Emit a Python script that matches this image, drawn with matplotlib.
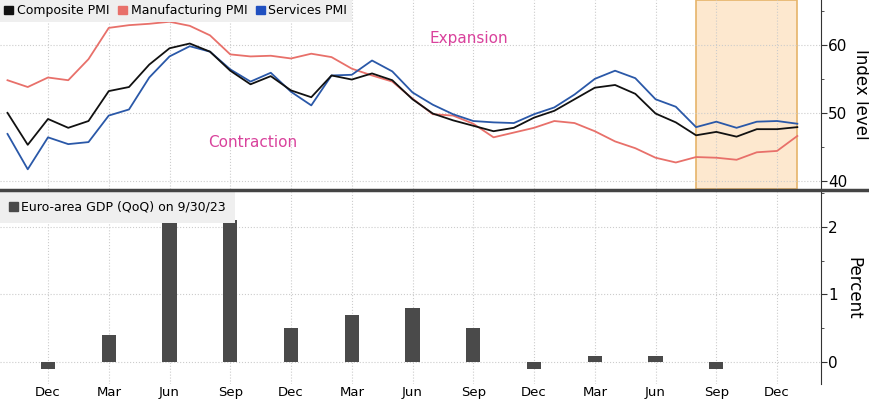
import numpy as np
import matplotlib.pyplot as plt
from matplotlib.patches import Patch
from matplotlib.lines import Line2D

# monthly PMI, Oct 2020 .. Jan 2024
composite = [50.0, 45.3, 49.1,
             47.8, 48.8, 53.2, 53.8, 57.1, 59.5, 60.2, 59.0, 56.2, 54.2, 55.4, 53.3,
             52.3, 55.5, 54.9, 55.8, 54.8, 52.0, 49.9, 48.9, 48.1, 47.3, 47.8, 49.3,
             50.3, 52.0, 53.7, 54.1, 52.8, 49.9, 48.6, 46.7, 47.2, 46.5, 47.6, 47.6,
             47.9]
manufacturing = [54.8, 53.8, 55.2,
                 54.8, 57.9, 62.5, 62.9, 63.1, 63.4, 62.8, 61.4, 58.6, 58.3, 58.4, 58.0,
                 58.7, 58.2, 56.5, 55.5, 54.6, 52.1, 49.8, 49.6, 48.4, 46.4, 47.1, 47.8,
                 48.8, 48.5, 47.3, 45.8, 44.8, 43.4, 42.7, 43.5, 43.4, 43.1, 44.2, 44.4,
                 46.6]
services = [46.9, 41.7, 46.4,
            45.4, 45.7, 49.6, 50.5, 55.2, 58.3, 59.8, 59.0, 56.4, 54.6, 55.9, 53.1,
            51.1, 55.5, 55.6, 57.7, 56.1, 53.0, 51.2, 49.8, 48.8, 48.6, 48.5, 49.8,
            50.8, 52.7, 55.0, 56.2, 55.1, 52.0, 50.9, 47.9, 48.7, 47.8, 48.7, 48.8,
            48.4]

# quarterly GDP QoQ, Q4 2020 .. Q3 2023
gdp = [-0.1, 0.4, 2.1, 2.1, 0.5, 0.7, 0.8, 0.5, -0.1, 0.1, 0.1, -0.1]

tick_labels = ['Dec', 'Mar', 'Jun', 'Sep', 'Dec', 'Mar', 'Jun', 'Sep',
               'Dec', 'Mar', 'Jun', 'Sep', 'Dec']

months = np.arange(len(composite))          # 0 = Oct 2020
quarters = np.arange(2, 2 + 3 * len(gdp), 3)  # Dec 2020, Mar 2021, ...
ticks = np.arange(2, 2 + 3 * len(tick_labels), 3)
shade_start, shade_end = 34, 39  # Aug 2023 .. Jan 2024

fig = plt.figure(figsize=(8.7, 4.0), dpi=100)
ax1 = fig.add_axes([0.0, 0.5275, 0.9437, 0.4725])
ax2 = fig.add_axes([0.0, 0.04, 0.9437, 0.48], sharex=ax1)

c_comp, c_manu, c_serv = '#111111', '#e8706a', '#2a58a8'

ax1.axvspan(shade_start, shade_end, facecolor='#fde8cf', edgecolor='#e6b46a', lw=1.2, zorder=0)
ax1.plot(months, manufacturing, color=c_manu, lw=1.3, zorder=3)
ax1.plot(months, services, color=c_serv, lw=1.3, zorder=3)
ax1.plot(months, composite, color=c_comp, lw=1.3, zorder=4)

ax1.text(22.8, 61, 'Expansion', color='#d9429c', fontsize=11, ha='center', va='center')
ax1.text(12.1, 45.7, 'Contraction', color='#d9429c', fontsize=11, ha='center', va='center')

ax1.set_ylim(38.8, 66.6)
ax1.set_yticks([40, 50, 60])
ax1.set_yticks([45, 55, 65], minor=True)
ax1.set_ylabel('Index level', rotation=270, fontsize=12, labelpad=16)

ax2.bar(quarters, gdp, width=0.7, color='#4a4a4a', zorder=3)
ax2.set_ylim(-0.32, 2.51)
ax2.set_yticks([0, 1, 2])
ax2.set_yticks([0.5, 1.5, 2.5], minor=True)
ax2.set_ylabel('Percent', rotation=270, fontsize=12, labelpad=18)

ax1.set_xlim(-0.37, 40.17)
ax2.set_xticks(ticks)
ax2.set_xticklabels(tick_labels, fontsize=9.5)
ax2.tick_params(axis='x', length=0, pad=1.5)
ax1.tick_params(axis='x', length=0, labelbottom=False)

for ax in (ax1, ax2):
    for s in ('top', 'left', 'bottom'):
        ax.spines[s].set_visible(False)
    ax.spines['right'].set_color('#333333')
    ax.yaxis.tick_right()
    ax.yaxis.set_label_position('right')
    ax.tick_params(axis='y', which='major', length=4, labelsize=11, pad=1, color='#333333')
    ax.tick_params(axis='y', which='minor', length=2.5, color='#333333')
    ax.grid(True, which='major', ls=':', color='#cccccc', lw=0.8, zorder=1)
    ax.set_axisbelow(True)

h1 = [Patch(color=c_comp), Patch(color=c_manu), Patch(color='#1f4fc0')]
leg1 = ax1.legend(h1, ['Composite PMI', 'Manufacturing PMI', 'Services PMI'],
                  loc='upper left', ncol=3, frameon=True, fancybox=False,
                  borderaxespad=0, handlelength=0.7, handleheight=0.7,
                  handletextpad=0.3, columnspacing=0.7, fontsize=9,
                  borderpad=0.35)
leg1.get_frame().set_facecolor('#efefef')
leg1.get_frame().set_edgecolor('none')
leg1.get_frame().set_alpha(1)

leg2 = ax2.legend([Patch(color='#4a4a4a')], ['Euro-area GDP (QoQ) on 9/30/23'],
                  loc='upper left', frameon=True, fancybox=False,
                  borderaxespad=0, handlelength=0.7, handleheight=0.7,
                  handletextpad=0.3, fontsize=9, borderpad=0.7)
leg2.get_frame().set_facecolor('#efefef')
leg2.get_frame().set_edgecolor('none')
leg2.get_frame().set_alpha(1)

# separator between the two panels
fig.add_artist(Line2D([0, 1], [0.5245, 0.5245], color='#444444', lw=2.5,
                      transform=fig.transFigure))

fig.savefig('out.png', dpi=100, facecolor='white')
